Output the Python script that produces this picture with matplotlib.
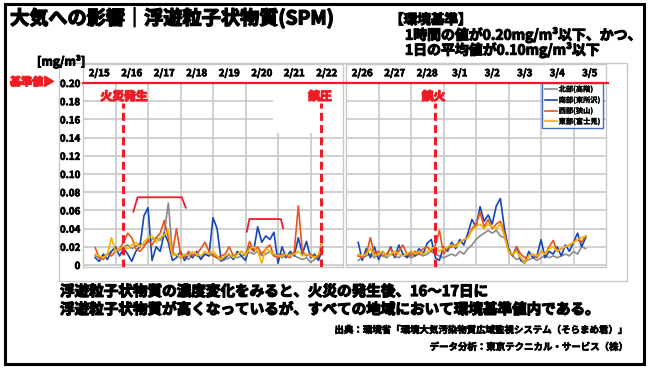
import numpy as np
import matplotlib
matplotlib.use('Agg')
import matplotlib.pyplot as plt
import matplotlib.patheffects as pe
from matplotlib.lines import Line2D
from matplotlib.patches import Rectangle

plt.rcParams['font.family'] = ['Noto Sans CJK JP', 'DejaVu Sans']
plt.rcParams['font.weight'] = 'bold'

W, H = 649, 369

# dates shown above each panel
days_left = ['2/15', '2/16', '2/17', '2/18', '2/19', '2/20', '2/21', '2/22']
days_right = ['2/26', '2/27', '2/28', '3/1', '3/2', '3/3', '3/4', '3/5']

# samples every 3 hours, first one at 09:00 of the first day
start_day = 0.375
step_day = 0.125

station_names = ['北部(高階)', '南部(東所沢)', '西部(狭山)', '東部(富士見)']
station_colors = ['#8a8a8a', '#1646b4', '#e8541a', '#f5b400']

# left panel (2/15 - 2/22), mg/m3
north_l = [0.010, 0.008, 0.010, 0.012, 0.015, 0.018, 0.016, 0.020, 0.022, 0.018,
           0.020, 0.024, 0.022, 0.025, 0.028, 0.030, 0.027, 0.035, 0.068, 0.015,
           0.010, 0.008, 0.010, 0.006, 0.012, 0.010, 0.008, 0.012, 0.010, 0.012,
           0.008, 0.004, 0.006, 0.008, 0.010, 0.008, 0.010, 0.012, 0.014, 0.012,
           0.015, 0.010, 0.012, 0.015, 0.010, 0.012, 0.008, 0.010, 0.012, 0.010,
           0.008, 0.006, 0.008, 0.003, 0.006, 0.008, 0.015]
south_l = [0.008, 0.004, 0.012, 0.006, 0.015, 0.020, 0.010, 0.018, 0.012, 0.004,
           0.015, 0.020, 0.054, 0.063, 0.005, 0.020, 0.015, 0.035, 0.025, 0.005,
           0.008, 0.015, 0.005, 0.012, 0.008, 0.015, 0.006, 0.012, 0.010, 0.052,
           0.040, 0.005, 0.008, 0.012, 0.006, 0.015, 0.010, 0.005, 0.020, 0.015,
           0.042, 0.025, 0.032, 0.028, 0.036, 0.002, 0.020, 0.008, 0.015, 0.010,
           0.030, 0.012, 0.026, 0.008, 0.012, 0.005, 0.020]
west_l = [0.019, 0.008, 0.006, 0.012, 0.010, 0.015, 0.018, 0.025, 0.035, 0.030,
          0.018, 0.015, 0.020, 0.028, 0.022, 0.030, 0.035, 0.049, 0.030, 0.012,
          0.040, 0.012, 0.008, 0.015, 0.010, 0.012, 0.018, 0.025, 0.015, 0.010,
          0.008, 0.010, 0.012, 0.020, 0.010, 0.012, 0.015, 0.010, 0.026, 0.015,
          0.020, 0.012, 0.018, 0.022, 0.010, 0.008, 0.012, 0.010, 0.008, 0.015,
          0.065, 0.015, 0.010, 0.012, 0.008, 0.010, 0.030]
east_l = [0.012, 0.010, 0.008, 0.012, 0.030, 0.015, 0.018, 0.020, 0.018, 0.022,
          0.025, 0.020, 0.025, 0.030, 0.032, 0.025, 0.030, 0.033, 0.038, 0.010,
          0.012, 0.008, 0.012, 0.010, 0.015, 0.012, 0.010, 0.015, 0.012, 0.015,
          0.010, 0.006, 0.010, 0.012, 0.008, 0.012, 0.015, 0.010, 0.018, 0.020,
          0.015, 0.002, 0.018, 0.015, 0.012, 0.010, 0.010, 0.012, 0.010, 0.012,
          0.015, 0.010, 0.012, 0.010, 0.008, 0.012, 0.025]

# right panel (2/26 - 3/5), mg/m3
north_r = [0.005, 0.008, 0.010, 0.012, 0.008, 0.012, 0.010, 0.008, 0.012, 0.010,
           0.008, 0.012, 0.010, 0.008, 0.010, 0.012, 0.010, 0.012, 0.015, 0.012,
           0.010, 0.008, 0.010, 0.012, 0.010, 0.015, 0.012, 0.018, 0.022, 0.028,
           0.032, 0.035, 0.038, 0.035, 0.038, 0.032, 0.030, 0.018, 0.010, 0.006,
           0.008, 0.003, 0.006, 0.008, 0.005, 0.008, 0.010, 0.008, 0.010, 0.008,
           0.010, 0.012, 0.010, 0.015, 0.012, 0.020, 0.018]
south_r = [0.025, 0.005, 0.018, 0.008, 0.020, 0.006, 0.015, 0.010, 0.020, 0.008,
           0.022, 0.012, 0.008, 0.015, 0.010, 0.018, 0.012, 0.024, 0.028, 0.008,
           0.005, 0.020, 0.015, 0.025, 0.018, 0.028, 0.022, 0.035, 0.050, 0.042,
           0.064, 0.048, 0.055, 0.045, 0.065, 0.073, 0.040, 0.018, 0.010, 0.020,
           0.005, 0.002, 0.015, 0.008, 0.010, 0.028, 0.008, 0.015, 0.012, 0.020,
           0.010, 0.022, 0.015, 0.025, 0.035, 0.020, 0.030]
west_r = [0.010, 0.008, 0.012, 0.030, 0.012, 0.015, 0.010, 0.012, 0.018, 0.010,
          0.015, 0.022, 0.012, 0.010, 0.015, 0.012, 0.018, 0.020, 0.015, 0.022,
          0.038, 0.012, 0.018, 0.020, 0.022, 0.025, 0.028, 0.030, 0.040, 0.045,
          0.058, 0.042, 0.050, 0.040, 0.045, 0.048, 0.035, 0.015, 0.010, 0.020,
          0.012, 0.008, 0.010, 0.012, 0.008, 0.015, 0.012, 0.020, 0.027, 0.015,
          0.018, 0.020, 0.022, 0.025, 0.028, 0.025, 0.032]
east_r = [0.012, 0.010, 0.012, 0.018, 0.010, 0.012, 0.015, 0.010, 0.012, 0.015,
          0.012, 0.010, 0.012, 0.015, 0.012, 0.015, 0.012, 0.015, 0.018, 0.020,
          0.015, 0.018, 0.020, 0.022, 0.020, 0.025, 0.028, 0.030, 0.038, 0.042,
          0.045, 0.040, 0.045, 0.042, 0.040, 0.045, 0.032, 0.015, 0.012, 0.015,
          0.008, 0.002, 0.010, 0.012, 0.010, 0.015, 0.012, 0.018, 0.020, 0.015,
          0.018, 0.020, 0.022, 0.025, 0.028, 0.030, 0.032]

# events (days from panel start)
fire_start = 1.22
fire_contained = 7.31
fire_out = 2.75

yticks = [0, 0.02, 0.04, 0.06, 0.08, 0.10, 0.12, 0.14, 0.16, 0.18, 0.20]
ytick_labels = ['0', '0.02', '0.04', '0.06', '0.08', '0.10', '0.12', '0.14', '0.16', '0.18', '0.20']

RED = '#ee1c25'
GRID = '#c4c4c4'


def fx(px):
    return px / W


def fy(py):
    return 1 - py / H


def embolden(txt, w=0.7):
    # installed CJK font is fairly light, thicken the glyphs a bit
    txt.set_path_effects([pe.withStroke(linewidth=w, foreground=txt.get_color())])
    return txt


fig = plt.figure(figsize=(W / 100, H / 100), dpi=100)


def ftext(px, py, s, size, color='black', ha='left', w=0.7):
    t = fig.text(fx(px), fy(py), s, fontsize=size, fontweight='bold', color=color,
                 va='center', ha=ha)
    return embolden(t, w)


# outer black frame and grey chart box
fig.patches.append(Rectangle((fx(5), fy(364)), fx(639), 360 / H, transform=fig.transFigure,
                             fill=False, edgecolor='black', linewidth=2.2))
fig.patches.append(Rectangle((fx(59), fy(281)), fx(568), 218 / H, transform=fig.transFigure,
                             fill=False, edgecolor='#c8c8c8', linewidth=1.0))


def setup_panel(ax, days):
    ax.set_xlim(0, 8)
    ax.set_ylim(-0.0022, 0.2209)
    ax.hlines(yticks[:-1], 0, 8, color=GRID, linewidth=1.1, zorder=1)
    ax.vlines(range(1, 8), 0, 0.2, color=GRID, linewidth=1.1, zorder=1)
    for i, d in enumerate(days):
        embolden(ax.text(i + 0.5, 0.2105, d, ha='center', va='center', fontsize=7, fontweight='bold'), 0.5)
    for s in ax.spines.values():
        s.set_color('#c8c8c8')
        s.set_linewidth(1.0)
    ax.set_xticks([])


ax1 = fig.add_axes([fx(83), fy(267), 260 / W, 203 / H])
ax2 = fig.add_axes([fx(346), fy(267), 260 / W, 203 / H])
setup_panel(ax1, days_left)
setup_panel(ax2, days_right)

ax1.set_yticks(yticks)
ax1.set_yticklabels(ytick_labels, fontsize=7, fontweight='bold')
ax1.tick_params(axis='y', length=0, pad=2)
for lab in ax1.get_yticklabels():
    embolden(lab, 0.5)
ax2.set_yticks([])

# blank patch in the upper right of the left panel
ax1.add_patch(Rectangle((5.85, 0.145), 2.15, 0.054, facecolor='white', edgecolor='none', zorder=2))

t = start_day + step_day * np.arange(len(north_l))
for ax, series in [(ax1, [north_l, south_l, west_l, east_l]),
                   (ax2, [north_r, south_r, west_r, east_r])]:
    for vals, c, name in zip(series, station_colors, station_names):
        ax.plot(t, vals, color=c, linewidth=1.2, label=name, zorder=3)

# event markers
dash = (2.6, 1.4)
for ax, x in [(ax1, fire_start), (ax1, fire_contained), (ax2, fire_out)]:
    ax.plot([x, x], [-0.002, 0.178], color=RED, linewidth=2.2, dashes=dash, zorder=4)
for ax, x, s in [(ax1, 1.26, '火災発生'), (ax1, 7.29, '鎮圧'), (ax2, 2.69, '鎮火')]:
    embolden(ax.text(x, 0.185, s, color=RED, fontsize=8.5, fontweight='bold',
                     ha='center', va='center', zorder=5), 0.9)

# brackets around the higher periods
ax1.plot([1.55, 1.68, 3.04, 3.16], [0.0586, 0.0744, 0.0744, 0.063], color=RED, linewidth=1.3, zorder=5)
ax1.plot([5.04, 5.12, 6.09, 6.16], [0.0366, 0.0505, 0.0505, 0.0403], color=RED, linewidth=1.3, zorder=5)

# environmental standard line across both panels
fig.lines.append(Line2D([fx(83), fx(608)], [fy(83), fy(83)], transform=fig.transFigure,
                        color=RED, linewidth=1.6))
ftext(10, 82, '基準値▶', 8, color=RED, w=0.8)
ftext(37, 62, '[mg/m³]', 8.5)

leg = ax2.legend(loc='upper right', bbox_to_anchor=(fx(603), fy(83)), bbox_transform=fig.transFigure,
                 fontsize=5.2, frameon=True, fancybox=False, handlelength=1.6, handletextpad=0.3,
                 borderpad=0.35, labelspacing=0.45, borderaxespad=0)
leg.get_frame().set_edgecolor('#1646b4')
leg.get_frame().set_linewidth(1.0)
for lt in leg.get_texts():
    embolden(lt, 0.2)

# titles
ftext(10, 18, '大気への影響｜浮遊粒子状物質(SPM)', 13.8, w=1.0)
ftext(390, 20, '【環境基準】', 9.8, w=0.8)
ftext(405, 35, '1時間の値が0.20mg/m³以下、かつ、', 10, w=0.8)
ftext(405, 50, '1日の平均値が0.10mg/m³以下', 10, w=0.8)

# comment and sources
ftext(60, 291, '浮遊粒子状物質の濃度変化をみると、火災の発生後、16～17日に', 10.5, w=0.9)
ftext(60, 309, '浮遊粒子状物質が高くなっているが、すべての地域において環境基準値内である。', 10.5, w=0.9)
ftext(629, 330, '出典：環境省「環境大気汚染物質広域監視システム（そらまめ君）」', 6.8, ha='right', w=0.5)
ftext(629, 347, 'データ分析：東京テクニカル・サービス（株）', 6.8, ha='right', w=0.5)

fig.savefig('out.png', dpi=100)
